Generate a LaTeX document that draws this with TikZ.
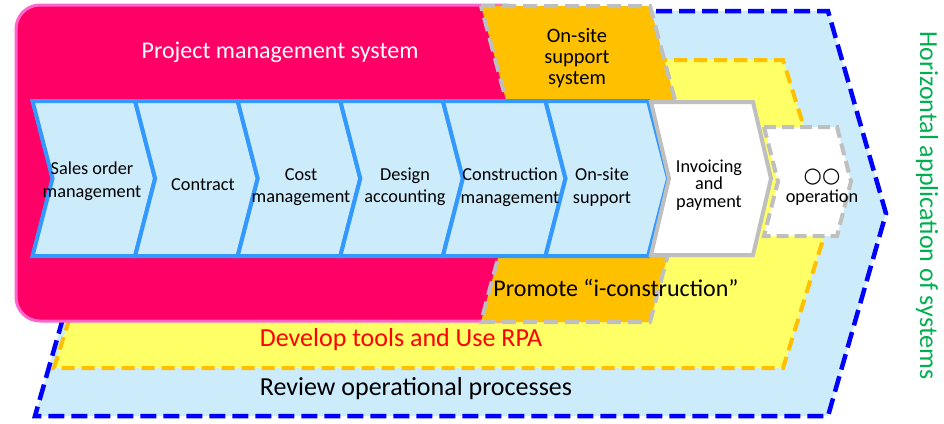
\documentclass[tikz,border=0pt]{standalone}
\usepackage{fontspec}
\setmainfont{Carlito}
\newfontfamily\symfont{DejaVu Sans}

\definecolor{skyfill}{HTML}{CCEBFB}
\definecolor{flowline}{HTML}{3399FF}
\definecolor{lemon}{HTML}{FFFF66}
\definecolor{amber}{HTML}{FFC000}
\definecolor{silver}{HTML}{BFBFBF}
\definecolor{magenta}{HTML}{FF0066}
\definecolor{rose}{HTML}{FF66CC}
\definecolor{leaf}{HTML}{00B050}

% chevron outline: left x, right x, top y, bottom y, point depth
\newcommand\chevpath[5]{(#1,#3) -- (#2,#3) -- ({#2+#5},{(#3+#4)/2}) -- (#2,#4) -- (#1,#4) -- ({#1+#5},{(#3+#4)/2}) -- cycle}

\tikzset{
  outerband/.style={fill=skyfill, draw=blue, line width=4.5pt, dash pattern=on 16pt off 7pt},
  toolband/.style={fill=lemon, draw=amber, line width=4pt, dash pattern=on 13pt off 7pt},
  sitebox/.style={fill=amber, draw=silver, line width=4pt, dash pattern=on 14pt off 7pt},
  flowstep/.style={fill=skyfill, draw=flowline, line width=4pt},
  paystep/.style={fill=white, draw=silver, line width=4pt},
  opstep/.style={fill=white, draw=silver, line width=4pt, dash pattern=on 12pt off 6pt},
  steptext/.style={align=center, font=\fontsize{18.3}{22.5}\selectfont, inner sep=0pt},
}

\begin{document}
\begin{tikzpicture}[x=1pt, y=-1pt]
\useasboundingbox (0,0) rectangle (944,423);

% nested bands
\path[outerband] \chevpath{35}{828}{11}{416}{58};
\path[toolband] \chevpath{54}{783}{60}{368}{48};

% project management block
\path[fill=magenta, draw=rose, line width=3pt, rounded corners=24pt] (16,5) rectangle (530,321);

% on-site support block
\path[sitebox] \chevpath{481}{650}{6}{322}{42};

% process chevrons
\foreach \i in {0,...,5}{
  \pgfmathsetmacro\xa{32.5+102.6*\i}
  \pgfmathsetmacro\xb{32.5+102.6*(\i+1)}
  \path[flowstep] \chevpath{\xa}{\xb}{101}{256}{20};
}
\path[paystep] \chevpath{651}{753}{102}{255}{18};
\path[opstep] \chevpath{764}{837}{127}{236}{14};

% labels
\node[anchor=base, text=white, font=\fontsize{24}{28}\selectfont] (pms) at (280,58) {Project management system};
\node[align=center, font=\fontsize{20.5}{21}\selectfont] (oss) at (577,58) {On-site\\support\\system};

\node[steptext] (s1) at (92,181) {Sales order\\management};
\node[steptext, anchor=base] (s2) at (203,190) {Contract};
\node[steptext] (s3) at (301,187) {Cost\\management};
\node[steptext] (s4) at (405,187) {Design\\accounting};
\node[steptext] (s5) at (510,187) {Construction\\management};
\node[steptext] (s6) at (602,187) {On-site\\support};
\node[steptext, font=\fontsize{18.3}{17.5}\selectfont] (s7) at (709,185) {Invoicing\\and\\payment};
\node[steptext, anchor=base] (s8) at (822,202.5) {operation};
\node[anchor=base, inner sep=0pt, font=\symfont\fontsize{21}{21}\selectfont] (s8mark) at (822,182) {○○};

\node[anchor=base, font=\fontsize{24}{28}\selectfont] (iconst) at (616,296) {Promote “i-construction”};
\node[anchor=base, text=red, font=\fontsize{26}{30}\selectfont] (rpa) at (401,346) {Develop tools and Use RPA};
\node[anchor=base, font=\fontsize{26}{30}\selectfont] (review) at (416,395) {Review operational processes};
\node[anchor=base, rotate=-90, text=leaf, font=\fontsize{26}{30}\selectfont] (horiz) at (920,205.5) {Horizontal application of systems};
\end{tikzpicture}
\end{document}
